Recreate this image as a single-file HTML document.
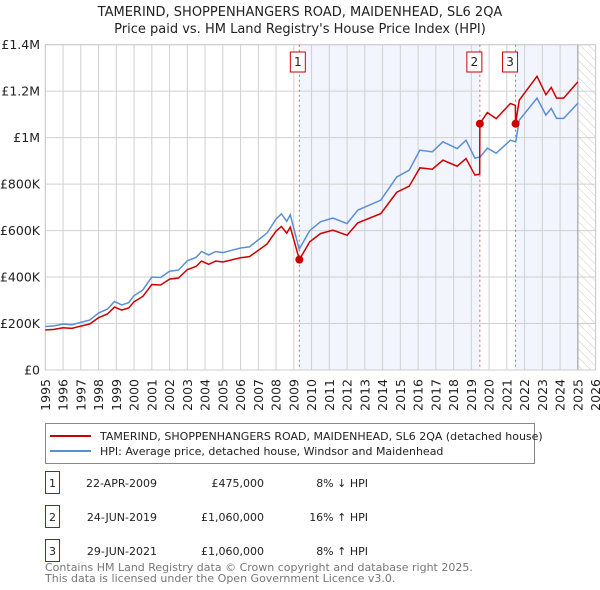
<!DOCTYPE html>
<html><head><meta charset="utf-8"><style>
body{margin:0;background:#fff;font-family:"Liberation Sans","DejaVu Sans",sans-serif;}
#wrap{position:relative;width:600px;height:590px;overflow:hidden}
</style></head><body><div id="wrap">
<svg id="svg" width="600" height="590" xmlns="http://www.w3.org/2000/svg" font-family="DejaVu Sans, Liberation Sans, sans-serif"></svg>
</div>
<script>
const hpiYears=[1995.0,1995.5,1996.0,1996.5,1997.0,1997.5,1998.0,1998.5,1998.9,1999.3,1999.7,2000.0,2000.5,2001.0,2001.5,2002.0,2002.5,2003.0,2003.5,2003.8,2004.2,2004.6,2005.0,2005.5,2006.0,2006.5,2007.0,2007.5,2008.0,2008.3,2008.6,2008.8,2009.0,2009.3,2009.9,2010.5,2011.2,2012.0,2012.6,2013.9,2014.8,2015.5,2016.1,2016.8,2017.4,2018.2,2018.7,2019.2,2019.5,2019.9,2020.4,2021.2,2021.5,2021.7,2022.7,2023.2,2023.5,2023.8,2024.2,2025.0];
const hpiValues=[187,190,198,195,205,215,245,262,295,280,290,320,345,400,398,425,430,470,485,510,495,510,505,515,525,530,560,590,650,672,640,668,610,520,600,638,654,630,688,731,831,860,946,939,982,953,989,912,917,955,933,989,982,1075,1170,1097,1126,1083,1083,1148];
const priceYears=[1995.0,1995.5,1996.0,1996.5,1997.0,1997.5,1998.0,1998.5,1998.9,1999.3,1999.7,2000.0,2000.5,2001.0,2001.5,2002.0,2002.5,2003.0,2003.5,2003.8,2004.2,2004.6,2005.0,2005.5,2006.0,2006.5,2007.0,2007.5,2008.0,2008.3,2008.6,2008.8,2009.0,2009.31,2009.9,2010.5,2011.2,2012.0,2012.6,2013.9,2014.8,2015.5,2016.1,2016.8,2017.4,2018.2,2018.7,2019.2,2019.47,2019.48,2019.9,2020.4,2021.2,2021.48,2021.49,2021.7,2022.7,2023.2,2023.5,2023.8,2024.2,2025.0];
const priceValues=[172,175,182,179,189,198,225,241,271,258,267,294,317,368,366,391,396,432,446,469,455,469,465,474,483,488,515,543,598,618,589,615,561,475,552,587,602,580,633,673,765,791,870,864,903,877,910,839,843,1060,1108,1082,1147,1139,1060,1161,1264,1185,1216,1170,1170,1240];
const saleYears=[2009.31,2019.48,2021.49];
const saleValues=[475,1060,1060];
const saleLabels=["1","2","3"];
const yTicks=[0,200,400,600,800,1000,1200,1400];
const yTickLabels=["£0","£200K","£400K","£600K","£800K","£1M","£1.2M","£1.4M"];
const xTicks=[];for(let y=1995;y<=2026;y++)xTicks.push(y);

const L=45.3,R=595.6,T=44.7,B=370;
const x=v=>L+(v-1995)/31*(R-L);
const y=v=>B-v/1400*(B-T);
const svg=document.getElementById('svg');
const NS='http://www.w3.org/2000/svg';
function mk(tag,attrs,parent){const e=document.createElementNS(NS,tag);for(const k in attrs)e.setAttribute(k,attrs[k]);(parent||svg).appendChild(e);return e;}

const defs=mk('defs',{});
const pat=mk('pattern',{id:'hatch',width:6,height:6,patternUnits:'userSpaceOnUse',patternTransform:'rotate(-45)'},defs);
mk('line',{x1:0,y1:0,x2:0,y2:6,stroke:'#ccc','stroke-width':1},pat);

let r=mk('rect',{x:x(2009.31),y:T,width:x(2019.48)-x(2009.31),height:B-T,fill:'#f2f5fd'});

r=mk('rect',{x:x(2021.49),y:T,width:x(2025.0)-x(2021.49),height:B-T,fill:'#f2f5fd'});

r=mk('rect',{x:x(2025.0),y:T,width:R-x(2025.0),height:B-T,fill:'url(#hatch)'});


xTicks.forEach(t=>{const l=mk('line',{x1:x(t),x2:x(t),y1:T,y2:B,stroke:'#d0d0d0','stroke-width':1});

const tx=mk('text',{x:0,y:0,'font-size':12.5,fill:'#222','text-anchor':'end',transform:`translate(${x(t)+4.5},379) rotate(-90)`});tx.textContent=t;
});
yTicks.forEach((t,i)=>{const l=mk('line',{x1:L,x2:R,y1:y(t),y2:y(t),stroke:'#d0d0d0','stroke-width':1});

const tx=mk('text',{x:40,y:y(t)+4.5,'font-size':12.5,fill:'#222','text-anchor':'end'});tx.textContent=yTickLabels[i];
});
let v=mk('line',{x1:x(2025.0),x2:x(2025.0),y1:T,y2:B,stroke:'#999','stroke-width':1});

let fr=mk('rect',{x:L,y:T,width:R-L,height:B-T,fill:'none',stroke:'#ccc'});


saleYears.forEach((s,i)=>{const l=mk('line',{x1:x(s),x2:x(s),y1:T,y2:B,stroke:'#e06060','stroke-dasharray':'2,3','stroke-width':1});
});

const hp=mk('polyline',{points:hpiYears.map((a,i)=>x(a)+','+y(hpiValues[i])).join(' '),fill:'none',stroke:'#5b8fd4','stroke-width':1.5});

const pp=mk('polyline',{points:priceYears.map((a,i)=>x(a)+','+y(priceValues[i])).join(' '),fill:'none',stroke:'#cc0000','stroke-width':1.5});


saleYears.forEach((s,i)=>{const c=mk('circle',{cx:x(s),cy:y(saleValues[i]),r:4,fill:'#cc0000'});

const bx=x(s)-(i==0?6:10)-1;
const g=mk('g',{});
mk('rect',{x:bx-2,y:52,width:15,height:20,fill:'#fff',stroke:'#c00','stroke-width':1},g);
const t=mk('text',{x:bx+5.5,y:66,'font-size':12,'text-anchor':'middle',fill:'#222'},g);t.textContent=saleLabels[i];});

function text(s,xx,yy,attrs,name){const t=mk('text',Object.assign({x:xx,y:yy,fill:'#222'},attrs));t.textContent=s;
return t;}
text('TAMERIND, SHOPPENHANGERS ROAD, MAIDENHEAD, SL6 2QA',300,16,{'font-size':13,'text-anchor':'middle'},'chart-title');
text("Price paid vs. HM Land Registry's House Price Index (HPI)",300,33,{'font-size':13,'text-anchor':'middle'},'chart-subtitle');

const lg=mk('g',{});
mk('rect',{x:45.5,y:423.5,width:489,height:40,fill:'#fff',stroke:'#888'},lg);
mk('line',{x1:50,x2:91,y1:436,y2:436,stroke:'#cc0000','stroke-width':2},lg);
mk('line',{x1:50,x2:91,y1:451,y2:451,stroke:'#5b8fd4','stroke-width':2},lg);
text('TAMERIND, SHOPPENHANGERS ROAD, MAIDENHEAD, SL6 2QA (detached house)',100,440,{'font-size':11},'legend-entry-price');
text('HPI: Average price, detached house, Windsor and Maidenhead',100,455,{'font-size':11},'legend-entry-hpi');

const rowsD=['22-APR-2009','24-JUN-2019','29-JUN-2021'];
const rowsP=['£475,000','£1,060,000','£1,060,000'];
const rowsH=['8% ↓ HPI','16% ↑ HPI','8% ↑ HPI'];
[482,516,550].forEach((ry,i)=>{
const b=mk('rect',{x:45.5,y:ry-10.5,width:14,height:22,fill:'#fff',stroke:'#c00'});

text(saleLabels[i],52.5,ry+5,{'font-size':11,'text-anchor':'middle'},'table-badge-label');
text(rowsD[i],157,ry+5,{'font-size':11,'text-anchor':'end'},'sale-date');
text(rowsP[i],264,ry+5,{'font-size':11,'text-anchor':'end'},'sale-price');
text(rowsH[i],368,ry+5,{'font-size':11,'text-anchor':'end'},'hpi-diff');});
text('Contains HM Land Registry data © Crown copyright and database right 2025.',45,571,{'font-size':11,fill:'#777'},'footer-line-1');
text('This data is licensed under the Open Government Licence v3.0.',45,582,{'font-size':11,fill:'#777'},'footer-line-2');
</script></body></html>
